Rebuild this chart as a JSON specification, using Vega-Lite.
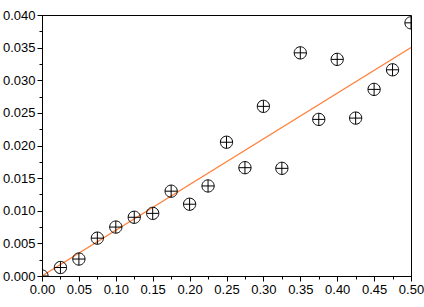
{
  "$schema": "https://vega.github.io/schema/vega-lite/v6.json",
  "autosize": {"type": "none"},
  "width": 369,
  "height": 261,
  "padding": {"left": 42, "top": 15, "right": 13, "bottom": 31},
  "background": "white",
  "config": {
    "view": {"stroke": "black", "strokeWidth": 1},
    "axis": {
      "domainColor": "black",
      "tickColor": "black",
      "labelColor": "black",
      "labelFont": "Liberation Sans",
      "labelFontSize": 13,
      "grid": false,
      "title": null,
      "labelOverlap": false,
      "labelFlush": false
    }
  },
  "datasets": {
    "points": [
      {"x": 0.0, "y": 0.0},
      {"x": 0.025, "y": 0.0013},
      {"x": 0.05, "y": 0.0026},
      {"x": 0.075, "y": 0.0058},
      {"x": 0.1, "y": 0.0075},
      {"x": 0.125, "y": 0.009},
      {"x": 0.15, "y": 0.0096},
      {"x": 0.175, "y": 0.013},
      {"x": 0.2, "y": 0.011},
      {"x": 0.225, "y": 0.0138},
      {"x": 0.25, "y": 0.0205},
      {"x": 0.275, "y": 0.0166},
      {"x": 0.3, "y": 0.026},
      {"x": 0.325, "y": 0.0165},
      {"x": 0.35, "y": 0.0342},
      {"x": 0.375, "y": 0.024},
      {"x": 0.4, "y": 0.0332},
      {"x": 0.425, "y": 0.0242},
      {"x": 0.45, "y": 0.0286},
      {"x": 0.475, "y": 0.0316},
      {"x": 0.5, "y": 0.0388}
    ],
    "fit": [
      {"x": 0.0, "y": 0.0},
      {"x": 0.5, "y": 0.035}
    ]
  },
  "encoding": {
    "x": {
      "field": "x", "type": "quantitative",
      "scale": {"domain": [0, 0.5], "nice": false, "zero": false},
      "axis": {
        "values": [0, 0.025, 0.05, 0.075, 0.1, 0.125, 0.15, 0.175, 0.2, 0.225, 0.25, 0.275, 0.3, 0.325, 0.35, 0.375, 0.4, 0.425, 0.45, 0.475, 0.5],
        "labelExpr": "round(datum.value*40) % 2 == 0 ? format(datum.value, '.2f') : ''",
        "tickSize": {"condition": {"test": "round(datum.value*40) % 2 == 0", "value": 5}, "value": 3},
        "labelPadding": 2
      }
    },
    "y": {
      "field": "y", "type": "quantitative",
      "scale": {"domain": [0, 0.04], "nice": false, "zero": false},
      "axis": {
        "values": [0, 0.0025, 0.005, 0.0075, 0.01, 0.0125, 0.015, 0.0175, 0.02, 0.0225, 0.025, 0.0275, 0.03, 0.0325, 0.035, 0.0375, 0.04],
        "labelExpr": "round(datum.value*400) % 2 == 0 ? format(datum.value, '.3f') : ''",
        "tickSize": {"condition": {"test": "round(datum.value*400) % 2 == 0", "value": 5}, "value": 3},
        "labelPadding": 2
      }
    }
  },
  "layer": [
    {
      "data": {"name": "fit"},
      "mark": {"type": "line", "color": "#ff7f3a", "strokeWidth": 1.2, "clip": true}
    },
    {
      "data": {"name": "points"},
      "mark": {
        "type": "point",
        "shape": "M-1,0A1,1 0 1,1 1,0A1,1 0 1,1 -1,0ZM-1,0L1,0M0,-1L0,1",
        "size": 150,
        "filled": false,
        "color": "black",
        "strokeWidth": 1,
        "opacity": 1,
        "clip": true
      }
    }
  ]
}
